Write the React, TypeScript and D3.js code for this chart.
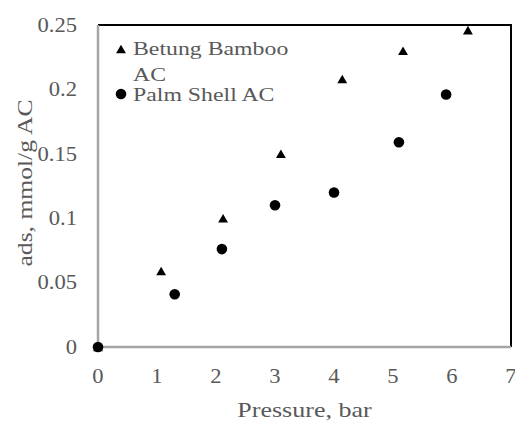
import * as d3 from 'd3'

const bambooP = [0, 1.07, 2.12, 3.1, 4.14, 5.17, 6.27]
const bambooAds = [0, 0.059, 0.1, 0.15, 0.208, 0.23, 0.246]
const palmP = [0, 1.3, 2.1, 3.0, 4.0, 5.1, 5.9]
const palmAds = [0, 0.041, 0.076, 0.11, 0.12, 0.159, 0.196]
const xTicks = [0, 1, 2, 3, 4, 5, 6, 7]
const yTicks = [0, 0.05, 0.1, 0.15, 0.2, 0.25]

const W = 515
const H = 422
const FONT = '"Liberation Serif", "Times New Roman", serif'
const TEXT = '#595959'

// text drawn a little wider than Times, like the source image
function Label({ x, y, size, sx, anchor = 'start', rotate = 0, children }: {
  x: number; y: number; size: number; sx: number; anchor?: string; rotate?: number; children: string
}) {
  return (
    <g transform={`translate(${x},${y}) rotate(${rotate}) scale(${sx},1)`}>
      <text x={0} y={0} textAnchor={anchor} style={{ fontFamily: FONT, fontSize: size, fill: TEXT }}>
        {children}
      </text>
    </g>
  )
}

export default function App() {
  const m = { top: 25, right: 4, bottom: 75, left: 98 }
  const iW = W - m.left - m.right
  const iH = H - m.top - m.bottom

  const x = d3.scaleLinear().domain([0, 7]).range([0, iW])
  const y = d3.scaleLinear().domain([0, 0.25]).range([iH, 0])
  const tri = d3.symbol().type(d3.symbolTriangle).size(42)() ?? ''

  return (
    <svg
      width={W}
      height={H}
      style={{ position: 'absolute', left: 0, top: 0, background: '#fff' }}
    >
      <g transform={`translate(${m.left},${m.top})`}>
        {/* frame: dark top/right, gray axes left/bottom */}
        <path d={`M0,0H${iW}V${iH}`} fill="none" stroke="#000000" strokeWidth={2} />
        <path d={`M0,0V${iH}H${iW}`} fill="none" stroke="#a6a6a6" strokeWidth={2.5} />

        {xTicks.map(d => (
          <Label key={'x' + d} x={x(d)} y={iH + 36} size={20} sx={1.13} anchor="middle">
            {String(d)}
          </Label>
        ))}
        {yTicks.map(d => (
          <Label key={'y' + d} x={-21} y={y(d) + 6.7} size={20} sx={1.13} anchor="end">
            {String(d)}
          </Label>
        ))}

        <Label x={iW / 2} y={iH + 70} size={21.5} sx={1.21} anchor="middle">Pressure, bar</Label>
        <Label x={-66} y={158} size={21.5} sx={1.19} anchor="middle" rotate={-90}>
          ads, mmol/g AC
        </Label>

        {bambooP.map((d, i) => (
          <path key={'t' + i} d={tri} transform={`translate(${x(d)},${y(bambooAds[i]) + 1.4})`} fill="#000" />
        ))}
        {palmP.map((d, i) => (
          <circle key={'c' + i} cx={x(d)} cy={y(palmAds[i])} r={5.3} fill="#000" />
        ))}

        {/* legend */}
        <g transform="translate(23,0)">
          <path d={tri} transform="translate(0,25.4)" fill="#000" />
          <Label x={12} y={30} size={19.5} sx={1.22}>Betung Bamboo</Label>
          <Label x={12} y={56} size={19.5} sx={1.22}>AC</Label>
          <circle cx={0} cy={69} r={5.3} fill="#000" />
          <Label x={12} y={76} size={19.5} sx={1.22}>Palm Shell AC</Label>
        </g>
      </g>
    </svg>
  )
}
